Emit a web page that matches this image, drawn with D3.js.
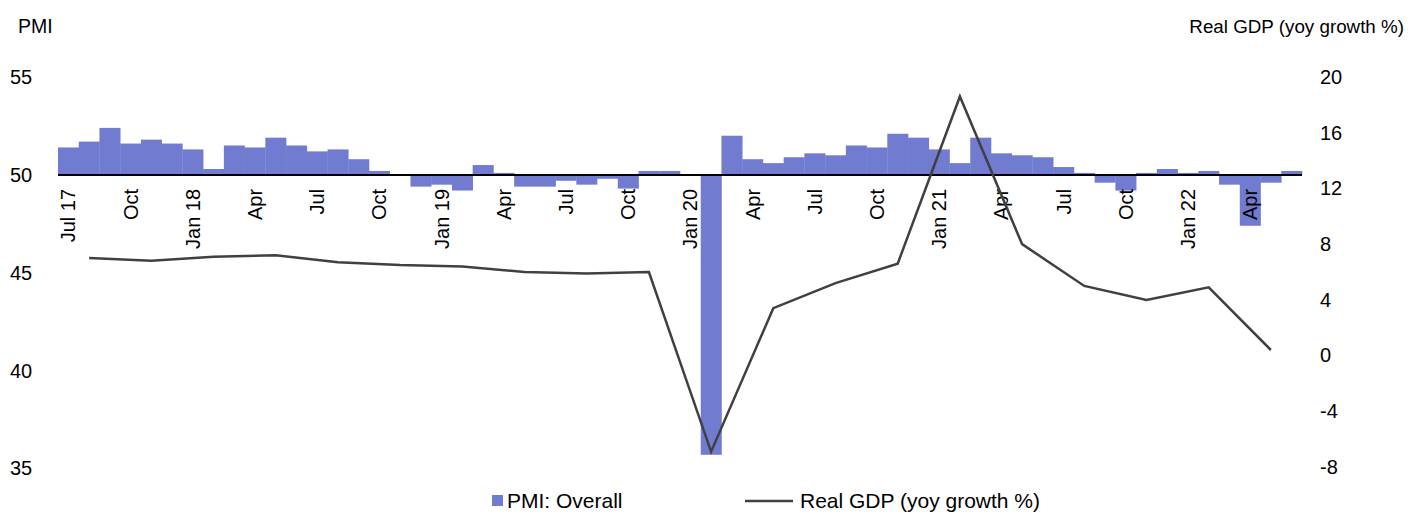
<!DOCTYPE html>
<html>
<head>
<meta charset="utf-8">
<script src="https://cdn.jsdelivr.net/npm/d3@7"></script>
<style>
  html, body { margin: 0; padding: 0; background: #fff; }
  svg { display: block; font-family: "Liberation Sans", Arial, sans-serif; }
</style>
</head>
<body>
<svg id="chart" width="1422" height="514"></svg>
<script>
// Monthly manufacturing PMI, Jul 2017 – Jun 2022
const months = [
  "2017-07","2017-08","2017-09","2017-10","2017-11","2017-12",
  "2018-01","2018-02","2018-03","2018-04","2018-05","2018-06",
  "2018-07","2018-08","2018-09","2018-10","2018-11","2018-12",
  "2019-01","2019-02","2019-03","2019-04","2019-05","2019-06",
  "2019-07","2019-08","2019-09","2019-10","2019-11","2019-12",
  "2020-01","2020-02","2020-03","2020-04","2020-05","2020-06",
  "2020-07","2020-08","2020-09","2020-10","2020-11","2020-12",
  "2021-01","2021-02","2021-03","2021-04","2021-05","2021-06",
  "2021-07","2021-08","2021-09","2021-10","2021-11","2021-12",
  "2022-01","2022-02","2022-03","2022-04","2022-05","2022-06"
];
const pmi = [
  51.4, 51.7, 52.4, 51.6, 51.8, 51.6,
  51.3, 50.3, 51.5, 51.4, 51.9, 51.5,
  51.2, 51.3, 50.8, 50.2, 50.0, 49.4,
  49.5, 49.2, 50.5, 50.1, 49.4, 49.4,
  49.7, 49.5, 49.8, 49.3, 50.2, 50.2,
  50.0, 35.7, 52.0, 50.8, 50.6, 50.9,
  51.1, 51.0, 51.5, 51.4, 52.1, 51.9,
  51.3, 50.6, 51.9, 51.1, 51.0, 50.9,
  50.4, 50.1, 49.6, 49.2, 50.1, 50.3,
  50.1, 50.2, 49.5, 47.4, 49.6, 50.2
];

// Quarterly real GDP growth, plotted at the middle month of each quarter
const gdpMonths = [
  "2017-08","2017-11","2018-02","2018-05","2018-08","2018-11",
  "2019-02","2019-05","2019-08","2019-11","2020-02","2020-05",
  "2020-08","2020-11","2021-02","2021-05","2021-08","2021-11",
  "2022-02","2022-05"
];
const gdp = [
  7.0, 6.8, 7.1, 7.2, 6.7, 6.5,
  6.4, 6.0, 5.9, 6.0, -6.9, 3.4,
  5.2, 6.6, 18.6, 8.0, 5.0, 4.0,
  4.9, 0.4
];

// Axis tick labels
const xTickMonths = months.filter((d, i) => i % 3 === 0);
const xTickLabels = [
  "Jul 17","Oct","Jan 18","Apr","Jul","Oct","Jan 19","Apr","Jul","Oct",
  "Jan 20","Apr","Jul","Oct","Jan 21","Apr","Jul","Oct","Jan 22","Apr"
];
const leftTicks = [35, 40, 45, 50, 55];
const rightTicks = [-8, -4, 0, 4, 8, 12, 16, 20];

const barColor = "#717bcf";
const lineColor = "#404040";
const tickFont = 20;
const titleFont = 18.8;
const legendFont = 21;

const svg = d3.select("#chart");

const x = d3.scaleBand().domain(months).range([58, 1302]).padding(0);
const yL = d3.scaleLinear().domain([35, 55]).range([468.5, 77]);
const yR = d3.scaleLinear().domain([-8, 20]).range([467, 77]);

// PMI bars measured from the 50 line
svg.append("g")
  .selectAll("rect")
  .data(months.map((m, i) => ({ m, v: pmi[i] })))
  .join("rect")
  .attr("x", d => x(d.m))
  .attr("width", x.bandwidth() + 0.3)
  .attr("y", d => yL(Math.max(d.v, 50)))
  .attr("height", d => Math.abs(yL(d.v) - yL(50)))
  .attr("fill", barColor);

// 50 reference line
svg.append("line")
  .attr("x1", x.range()[0]).attr("x2", x.range()[1])
  .attr("y1", yL(50)).attr("y2", yL(50))
  .attr("stroke", "#000").attr("stroke-width", 2);

// Month labels, rotated, hanging below the 50 line
const xAxis = d3.axisBottom(x)
  .tickValues(xTickMonths)
  .tickSize(0)
  .tickFormat((d, i) => xTickLabels[i]);
const gx = svg.append("g").attr("transform", `translate(0,${yL(50)})`).call(xAxis);
gx.select(".domain").remove();
gx.selectAll("text")
  .attr("font-size", tickFont)
  .attr("font-family", "Liberation Sans, Arial, sans-serif")
  .attr("fill", "#000")
  .attr("transform", "rotate(-90)")
  .attr("x", -14)
  .attr("y", 0)
  .attr("dy", "0.35em")
  .attr("text-anchor", "end");

// Plain hyphen-minus for negative numbers
const plain = d => String(d);

// Left axis (PMI)
const gl = svg.append("g").attr("transform", "translate(10,0)")
  .call(d3.axisLeft(yL).tickValues(leftTicks).tickSize(0).tickFormat(plain));
gl.select(".domain").remove();
gl.selectAll("text")
  .attr("font-size", tickFont).attr("font-family", "Liberation Sans, Arial, sans-serif")
  .attr("fill", "#000").attr("text-anchor", "start").attr("x", 0);

// Right axis (GDP growth)
const gr = svg.append("g").attr("transform", "translate(1320,0)")
  .call(d3.axisRight(yR).tickValues(rightTicks).tickSize(0).tickFormat(plain));
gr.select(".domain").remove();
gr.selectAll("text")
  .attr("font-size", tickFont).attr("font-family", "Liberation Sans, Arial, sans-serif")
  .attr("fill", "#000").attr("text-anchor", "start").attr("x", 0);

// GDP line
const line = d3.line()
  .x((d, i) => x(gdpMonths[i]) + x.bandwidth() / 2)
  .y(d => yR(d));
svg.append("path")
  .datum(gdp)
  .attr("d", line)
  .attr("fill", "none")
  .attr("stroke", lineColor)
  .attr("stroke-width", 2.5)
  .attr("stroke-linejoin", "miter");

// Axis titles
svg.append("text").attr("x", 18).attr("y", 33)
  .attr("font-size", 19.5).text("PMI");
svg.append("text").attr("x", 1404).attr("y", 33)
  .attr("font-size", titleFont).attr("text-anchor", "end")
  .text("Real GDP (yoy growth %)");

// Legend
const lg = svg.append("g").attr("font-size", legendFont);
lg.append("rect").attr("x", 492).attr("y", 495).attr("width", 11).attr("height", 11).attr("fill", barColor);
lg.append("text").attr("x", 507).attr("y", 508).text("PMI: Overall");
lg.append("line").attr("x1", 745).attr("x2", 793).attr("y1", 501).attr("y2", 501)
  .attr("stroke", lineColor).attr("stroke-width", 2.5);
lg.append("text").attr("x", 800).attr("y", 508).text("Real GDP (yoy growth %)");
</script>
</body>
</html>
